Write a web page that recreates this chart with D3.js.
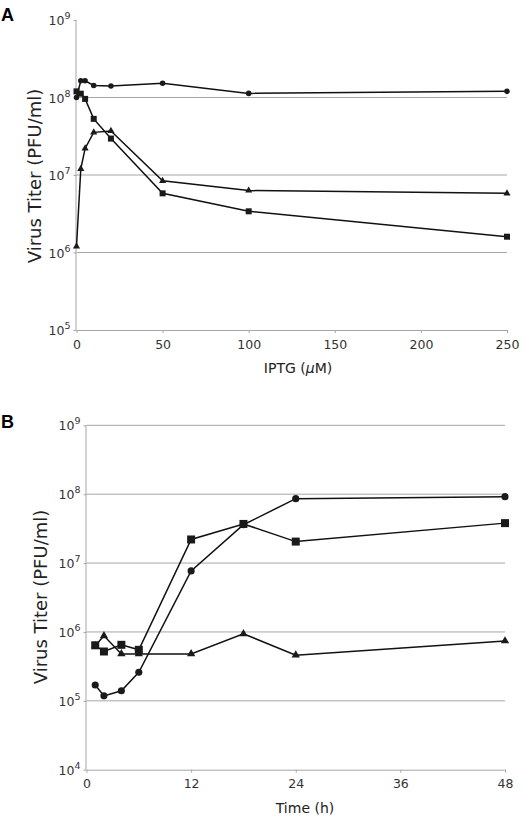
<!DOCTYPE html>
<html><head><meta charset="utf-8">
<script src="https://cdn.jsdelivr.net/npm/d3@7/dist/d3.min.js"></script>
<style>body{margin:0;background:#fff;} svg{display:block;font-family:"DejaVu Sans",Verdana,sans-serif;}</style>
</head><body>
<script>
// Panel A data
const iptg = [0, 2.5, 5, 10, 20, 50, 100, 250];
const aCircle = [1.0e8, 1.64e8, 1.64e8, 1.43e8, 1.41e8, 1.53e8, 1.13e8, 1.2e8];
const aSquare = [1.2e8, 1.12e8, 9.6e7, 5.3e7, 2.95e7, 5.8e6, 3.4e6, 1.6e6];
const aTriangle = [1.2e6, 1.2e7, 2.2e7, 3.55e7, 3.7e7, 8.4e6, 6.3e6, 5.8e6];
const aXTicks = [0, 50, 100, 150, 200, 250];
const aYTicks = [5, 6, 7, 8, 9];
const aGrid = [6, 7, 8];
// Panel B data
const times = [1, 2, 4, 6, 12, 18, 24, 48];
const bCircle = [1.7e5, 1.18e5, 1.4e5, 2.6e5, 7.7e6, 3.6e7, 8.6e7, 9.2e7];
const bSquare = [6.4e5, 5.2e5, 6.5e5, 5.5e5, 2.2e7, 3.7e7, 2.05e7, 3.8e7];
const bTriangle = [6.3e5, 8.8e5, 4.8e5, 4.8e5, 4.8e5, 9.4e5, 4.6e5, 7.4e5];
const bXTicks = [0, 12, 24, 36, 48];
const bYTicks = [4, 5, 6, 7, 8, 9];
const bGrid = [5, 6, 7, 8, 9];

const svg = d3.select("body").append("svg").attr("width", 525).attr("height", 822);

function panel(cfg) {
  const g = svg.append("g");
  const x = d3.scaleLinear().domain(cfg.xDomain).range([cfg.left, cfg.right]);
  const y = d3.scaleLog().domain(cfg.yDomain).range([cfg.bottom, cfg.top]);
  // gridlines
  g.selectAll(".grid").data(cfg.grid).join("line")
    .attr("x1", cfg.left).attr("x2", cfg.right)
    .attr("y1", d => y(Math.pow(10, d))).attr("y2", d => y(Math.pow(10, d)))
    .attr("stroke", "#a6a6a6").attr("stroke-width", 1);
  // y axis
  const ya = g.append("g").attr("transform", `translate(${cfg.left},0)`)
    .call(d3.axisLeft(y).tickValues(cfg.yTicks.map(e => Math.pow(10, e))).tickSize(3).tickFormat(""));
  ya.select(".domain").attr("stroke", "#a6a6a6").attr("d", `M-0.5,${cfg.bottom}V${cfg.top}`);
  ya.selectAll(".tick line").attr("stroke", "#a6a6a6");
  g.selectAll(".ylab").data(cfg.yTicks).join("text")
    .attr("x", cfg.left - 6).attr("y", d => y(Math.pow(10, d)) + 5)
    .attr("text-anchor", "end").attr("font-size", 12.5).attr("fill", "#333")
    .each(function (d) {
      const t = d3.select(this);
      t.append("tspan").text("10");
      t.append("tspan").attr("dy", -6).attr("font-size", 9.5).text(d);
    });
  // x axis
  const xa = g.append("g").attr("transform", `translate(0,${cfg.bottom})`)
    .call(d3.axisBottom(x).tickValues(cfg.xTicks).tickSize(3).tickSizeOuter(0));
  xa.select(".domain").attr("stroke", "#a6a6a6");
  xa.selectAll(".tick line").attr("stroke", "#a6a6a6");
  xa.selectAll(".tick text").attr("font-size", 12.5).attr("fill", "#333").attr("dy", "1.0em")
    .attr("font-family", "DejaVu Sans");
  // axis titles
  g.append("text").attr("transform", `translate(${cfg.yTitleX},${cfg.yTitleY}) rotate(-90)`)
    .attr("text-anchor", "middle").attr("font-size", 18).attr("fill", "#222").text("Virus Titer (PFU/ml)");
  const xt = g.append("text").attr("x", cfg.xTitleX).attr("y", cfg.xTitleY)
    .attr("text-anchor", "middle").attr("font-size", 14).attr("fill", "#222");
  cfg.xTitle(xt);
  g.append("text").attr("x", cfg.letterX).attr("y", cfg.letterY).attr("font-size", 18)
    .attr("font-weight", "bold").attr("font-family", "Liberation Sans, Arial, sans-serif").text(cfg.letter);
  // series
  const line = d3.line().x(d => x(d[0])).y(d => y(d[1]));
  const series = [
    { vals: cfg.circle, sym: d3.symbolCircle, size: cfg.sizes[0] },
    { vals: cfg.square, sym: d3.symbolSquare, size: cfg.sizes[1] },
    { vals: cfg.triangle, sym: d3.symbolTriangle, size: cfg.sizes[2] }
  ];
  series.forEach(s => {
    const pts = cfg.xs.map((xv, i) => [xv, s.vals[i]]);
    g.append("path").attr("d", line(pts)).attr("fill", "none").attr("stroke", "#111").attr("stroke-width", 1.5);
  });
  series.forEach(s => {
    const pts = cfg.xs.map((xv, i) => [xv, s.vals[i]]);
    g.selectAll(null).data(pts).join("path")
      .attr("transform", d => `translate(${x(d[0])},${y(d[1])})`)
      .attr("d", d3.symbol().type(s.sym).size(s.size)).attr("fill", "#1a1a1a");
  });
}

panel({
  xDomain: [0, 250], yDomain: [1e5, 1e9], left: 76.5, right: 507, top: 20, bottom: 330,
  grid: aGrid, yTicks: aYTicks, xTicks: aXTicks, xs: iptg,
  circle: aCircle, square: aSquare, triangle: aTriangle, sizes: [24, 36, 22],
  yTitleX: 41, yTitleY: 176, xTitleX: 298, xTitleY: 373,
  xTitle: t => { t.append("tspan").text("IPTG ("); t.append("tspan").attr("font-style", "italic").text("\u03BC"); t.append("tspan").text("M)"); },
  letter: "A", letterX: 1, letterY: 21
});
panel({
  xDomain: [0, 48], yDomain: [1e4, 1e9], left: 86.5, right: 505, top: 425.3, bottom: 769.7,
  grid: bGrid, yTicks: bYTicks, xTicks: bXTicks, xs: times,
  circle: bCircle, square: bSquare, triangle: bTriangle, sizes: [40, 64, 30],
  yTitleX: 47, yTitleY: 597, xTitleX: 305, xTitleY: 813,
  xTitle: t => t.text("Time (h)"),
  letter: "B", letterX: 1, letterY: 428
});
</script>
</body></html>
